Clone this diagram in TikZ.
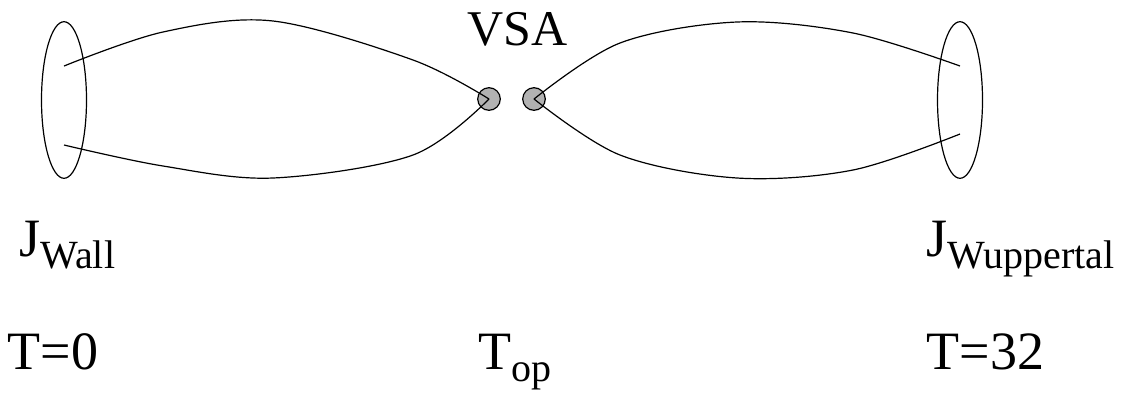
\documentclass[tikz,border=0pt]{standalone}
\usepackage{fontspec}
\setmainfont{Liberation Serif}
\newfontfamily\tms{Liberation Serif}
\usetikzlibrary{shapes.geometric}
\newcommand{\lowsub}[1]{{\fontsize{20}{20}\selectfont\raisebox{-6pt}{#1}}}

\begin{document}
\begin{tikzpicture}[x=0.5pt, y=-0.5pt, line width=0.6pt,
  ring/.style={ellipse, draw, inner sep=0pt, minimum width=22.5pt, minimum height=78.3pt},
  vtx/.style={circle, draw, fill=black!30, inner sep=0pt, minimum size=11.3pt},
  lbl/.style={anchor=base west, inner sep=0pt, font=\tms\fontsize{27}{27}\selectfont}]
  \useasboundingbox (0,0) rectangle (1127,392);
  \node[ring] (ringW) at (64,100) {};
  \node[ring] (ringU) at (960,100) {};
  \node[vtx] (vl) at (489,99) {};
  \node[vtx] (vr) at (534,99) {};
  \coordinate (wup) at (64,66);
  \coordinate (wlo) at (64,145);
  \coordinate (uup) at (960,66);
  \coordinate (ulo) at (960,134);
  % the two loops
  \draw plot[smooth, tension=0.55] coordinates
    {(wup) (163,32) (273,21) (413,60) (vl.center)};
  \draw plot[smooth, tension=0.55] coordinates
    {(wlo) (163,166) (273,178) (413,155) (vl.center)};
  \draw plot[smooth, tension=0.55] coordinates
    {(vr.center) (620,43) (737,22) (853,33) (uup)};
  \draw plot[smooth, tension=0.55] coordinates
    {(vr.center) (620,155) (737,178) (853,170) (ulo)};
  % labels
  \node[lbl, font=\tms\fontsize{25}{25}\selectfont] (vsa) at (467,45) {VSA};
  \node[lbl] (jw) at (19,256) {J\lowsub{Wall}};
  \node[lbl] (ju) at (926,256) {J\lowsub{Wuppertal}};
  \node[lbl] (t0) at (7,369) {T=0};
  \node[lbl] (top) at (478,369) {T\lowsub{op}};
  \node[lbl] (t32) at (926,369) {T=32};
\end{tikzpicture}
\end{document}
